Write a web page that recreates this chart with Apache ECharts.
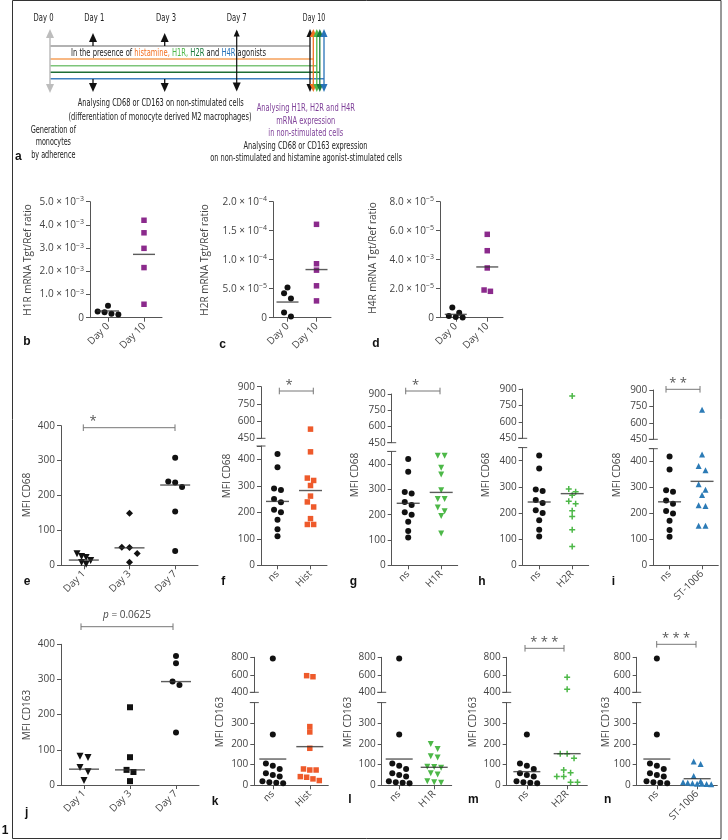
<!DOCTYPE html>
<html><head><meta charset="utf-8">
<script src="https://cdn.jsdelivr.net/npm/echarts@6/dist/echarts.min.js"></script>
<style>html,body{margin:0;padding:0;background:#fff}#c{width:728px;height:840px}</style>
</head><body><div id="c"></div>
<script>
// ---------------- DATA ----------------
const catDay010 = ['Day 0', 'Day 10'];
const catDays = ['Day 1', 'Day 3', 'Day 7'];
const catHist = ['ns', 'Hist'];
const catH1R = ['ns', 'H1R'];
const catH2R = ['ns', 'H2R'];
const catST = ['ns', 'ST-1006'];

// b, c, d : mRNA Tgt/Ref ratio
const h1rDay0 = [0.52e-3, 0.27e-3, 0.24e-3, 0.17e-3, 0.14e-3];
const h1rDay10 = [4.2e-3, 3.66e-3, 2.99e-3, 2.16e-3, 0.58e-3];
const h1rLine = [0.29e-3, 2.73e-3];
const h2rDay0 = [5.2e-5, 4.2e-5, 3.3e-5, 0.9e-5, 0.2e-5];
const h2rDay10 = [1.61e-4, 9.3e-5, 8.2e-5, 5.5e-5, 2.9e-5];
const h2rLine = [2.7e-5, 8.3e-5];
const h4rDay0 = [0.71e-5, 0.35e-5, 0.12e-5, 0.05e-5, 0.02e-5];
const h4rDay10 = [5.75e-5, 4.62e-5, 3.43e-5, 1.91e-5, 1.82e-5];
const h4rLine = [0.23e-5, 3.5e-5];

// e : MFI CD68 over days
const cd68Day1 = [33, 25, 22, 14, 8, 3];
const cd68Day3 = [149, 52, 51, 34, 9];
const cd68Day7 = [308, 240, 237, 224, 154, 41];
const cd68DayLine = [15, 50, 230];

// f - i : MFI CD68 day 10
const cd68Ns = [420, 370, 290, 284, 250, 238, 210, 200, 172, 136, 110];
const cd68Hist = [530, 428, 329, 320, 301, 261, 239, 220, 176, 154, 154];
const cd68H1R = [433, 433, 385, 359, 297, 262, 262, 228, 214, 195, 126];
const cd68H2R = [837, 292, 281, 268, 245, 235, 209, 187, 136, 72];
const cd68ST = [720, 428, 383, 367, 313, 292, 271, 232, 229, 153, 153];
const lineF = [241, 282], lineG = [245, 288], lineH = [242, 274], lineI = [245, 324];

// j : MFI CD163 over days
const cd163Day1 = [82, 78, 50, 38, 13];
const cd163Day3 = [221, 79, 43, 37, 11];
const cd163Day7 = [367, 346, 294, 284, 149];
const cd163DayLine = [45, 43, 294];

// k - n : MFI CD163 day 10
const cd163Ns = [785, 246, 106, 95, 79, 58, 50, 42, 20, 15, 12, 10];
const cd163NsM = [246, 106, 95, 79, 58, 50, 42, 20, 15, 12, 10];
const cd163Hist = [590, 578, 284, 258, 179, 79, 74, 74, 42, 39, 31, 23];
const cd163H1R = [200, 175, 140, 135, 90, 88, 85, 58, 52, 20, 15, 12];
const cd163H2R = [571, 434, 152, 152, 131, 74, 61, 42, 42, 15, 15];
const cd163ST = [115, 103, 45, 20, 15, 12, 10, 8, 8, 6, 5];
const lineK = [127, 187], lineL = [127, 87], lineM = [66, 153], lineN = [127, 32];

// tick labels
const tickH1R = ['0', '1.0 × 10^−3', '2.0 × 10^−3', '3.0 × 10^−3', '4.0 × 10^−3', '5.0 × 10^−3'];
const tickH2R = ['0', '5.0 × 10^−5', '1.0 × 10^−4', '1.5 × 10^−4', '2.0 × 10^−4'];
const tickH4R = ['0', '2.0 × 10^−5', '4.0 × 10^−3', '6.0 × 10^−5', '8.0 × 10^−5'];
const tick400 = ['0', '100', '200', '300', '400'];
const tickCD68High = ['450', '600', '750', '900'];
const tickCD163Low = ['0', '100', '200', '300'];
const tickCD163High = ['400', '600', '800'];

// timeline labels
const tlDays = ['Day 0', 'Day 1', 'Day 3', 'Day 7', 'Day 10'];

// ---------------- STYLE ----------------
const FONT = "'Open Sans','Noto Sans',sans-serif";
const NARROW = "'Liberation Sans Narrow','DejaVu Sans Condensed',sans-serif";
const AX = '#555', TXT = '#444';
const C_BLACK = '#111', C_PURPLE = '#8B2A8C', C_ORANGE = '#EE5A2B', C_GREEN = '#4DB848', C_BLUE = '#2C7BB6';
const PLUS = 'path://M3,0H5V3H8V5H5V8H3V5H0V3H3Z';
const S_CIRC = {sym: 'circle', color: C_BLACK, size: 6};
const S_PURP = {sym: 'rect', color: C_PURPLE, size: 5.5};
const S_DOWN = {sym: 'triangle', rot: 180, color: C_BLACK, size: 7, gap: 0.65};
const S_DIAM = {sym: 'diamond', color: C_BLACK, size: 7, gap: 1.1};
const S_SQ = {sym: 'rect', color: C_BLACK, size: 6};
const S_HIST = {sym: 'rect', color: C_ORANGE, size: 5.5};
const S_H1R = {sym: 'triangle', rot: 180, color: C_GREEN, size: 6};
const S_H2R = {sym: PLUS, color: C_GREEN, size: 6};
const S_ST = {sym: 'triangle', color: C_BLUE, size: 6};

const RICH = {
  m: {fontSize: 10, color: TXT, fontFamily: FONT, lineHeight: 12},
  e: {fontSize: 7, color: TXT, fontFamily: FONT, lineHeight: 7, verticalAlign: 'top'}
};

const grids = [], xAxis = [], yAxis = [], series = [], G = [];

function fmt(y) {
  return function (v) {
    const i = Math.round((v - y.min) / y.interval);
    const s = y.labels[i];
    if (s === undefined || Math.abs(v - (y.min + i * y.interval)) > y.interval * 1e-6) return '';
    if (s.indexOf('^') < 0) return s;
    const parts = s.split('^');
    return '{m|' + parts[0] + '}{e|' + parts[1] + '}';
  };
}

function addGrid(box, cats, y, showX) {
  const gi = grids.length;
  grids.push({left: box.left, top: box.top, width: box.width, height: box.height, containLabel: false, outerBoundsMode: 'none'});
  xAxis.push({gridIndex: gi, type: 'category', data: cats, show: showX, boundaryGap: true,
    axisLine: {show: true, lineStyle: {color: AX, width: 1}},
    axisTick: {show: true, alignWithLabel: true, length: 4, lineStyle: {color: AX}},
    axisLabel: {show: true, interval: 0, rotate: 45, fontSize: 10, color: TXT, fontFamily: FONT, margin: 7},
    splitLine: {show: false}});
  yAxis.push({gridIndex: gi, type: 'value', min: y.min, max: y.max, interval: y.interval,
    axisLine: {show: true, lineStyle: {color: AX, width: 1}},
    axisTick: {show: true, length: 4, lineStyle: {color: AX}},
    splitLine: {show: false},
    axisLabel: {show: true, fontSize: 10, color: TXT, fontFamily: FONT, margin: 6, formatter: fmt(y), rich: RICH}});
  return gi;
}

// non-random dodge (column scatter): points within one symbol height share a row, spread symmetrically
function swarm(vals, px, size, gapF, maxW) {
  const idx = vals.map((v, i) => i).sort((a, b) => vals[b] - vals[a]);
  const off = vals.map(() => 0);
  let row = [], startY = 0;
  const flush = () => {
    const k = row.length;
    const sp = k > 1 ? Math.min(size * gapF, maxW / (k - 1)) : 0;
    row.forEach((ii, j) => { off[ii] = (j - (k - 1) / 2) * sp; });
    row = [];
  };
  idx.forEach(i => {
    const y = vals[i] * px;
    if (row.length && startY - y < size * 0.95) row.push(i);
    else { flush(); row = [i]; startY = y; }
  });
  flush();
  return off;
}

function pushScatter(gi, ci, vals, px, g, band) {
  const off = swarm(vals, px, g.size, g.gap || 1.15, band * 0.7);
  series.push({type: 'scatter', xAxisIndex: gi, yAxisIndex: gi, symbol: g.sym, symbolSize: g.size, symbolRotate: g.rot || 0,
    itemStyle: {color: g.color, opacity: 1}, silent: true, z: 3,
    data: vals.map((v, i) => ({value: [ci, v], symbolOffset: [off[i], 0]}))});
}

function addPanel(p) {
  const gl = addGrid({left: p.left, width: p.width, top: p.low.top, height: p.low.height}, p.cats, p.low, true);
  let gu = null;
  if (p.high) gu = addGrid({left: p.left, width: p.width, top: p.high.top, height: p.high.height}, p.cats, p.high, false);
  const pxL = p.low.height / (p.low.max - p.low.min);
  const pxU = p.high ? p.high.height / (p.high.max - p.high.min) : 0;
  const band = p.width / p.cats.length;
  p.groups.forEach((g, ci) => {
    const lo = g.vals.filter(v => !p.high || v <= p.low.max);
    const hi = p.high ? g.vals.filter(v => v > p.low.max) : [];
    pushScatter(gl, ci, lo, pxL, g, band);
    if (hi.length) pushScatter(gu, ci, hi, pxU, g, band);
  });
  series.push({type: 'scatter', xAxisIndex: gl, yAxisIndex: gl, symbol: 'rect', symbolSize: [p.lineW, 1.4],
    itemStyle: {color: '#333'}, z: 5, silent: true, data: p.lines.map((v, i) => [i, v])});
  if (p.high) {
    const yb = p.high.top + p.high.height, yt = p.low.top;
    gLine(p.left - 4.5, yb, p.left + 4.5, yb, AX, 1);
    gLine(p.left - 4.5, yt, p.left + 4.5, yt, AX, 1);
  }
}

// graphic helpers
function gLine(x1, y1, x2, y2, stroke, w) { G.push({type: 'line', silent: true, shape: {x1, y1, x2, y2}, style: {stroke, lineWidth: w || 1}}); }
function gPoly(points, fill) { G.push({type: 'polygon', silent: true, shape: {points}, style: {fill}}); }
function head(x, tip, dir, color, w, h) { const b = tip + dir * h; gPoly([[x, tip], [x - w, b], [x + w, b]], color); }
function gText(x, y, text, st, extra) {
  G.push(Object.assign({type: 'text', silent: true, x, y, style: Object.assign({text, fill: '#222', fontSize: 10, fontFamily: FONT, align: 'center', verticalAlign: 'middle'}, st)}, extra || {}));
}
function yName(x, y, text) { gText(x, y, text, {fill: TXT, fontSize: 10}, {rotation: Math.PI / 2}); }
function letter(x, y, t) { gText(x, y, t, {fill: '#111', fontSize: 12, fontWeight: 'bold', fontFamily: "'Liberation Sans','DejaVu Sans',sans-serif"}); }
function bracket(x1, x2, y, label, lx, ly, st) {
  gLine(x1, y, x2, y, '#777', 1);
  gLine(x1, y - 3.3, x1, y + 3.3, '#777', 1);
  gLine(x2, y - 3.3, x2, y + 3.3, '#777', 1);
  gText(lx, ly, label, Object.assign({fill: '#555', fontSize: 13}, st || {}));
}

// ---------------- PANELS ----------------
const LOW68 = {min: 0, max: 450, interval: 100, labels: tick400};
const HIGH68 = {min: 450, max: 900, interval: 150, labels: tickCD68High};
const LOW163 = {min: 0, max: 400, interval: 100, labels: tickCD163Low};
const HIGH163 = {min: 400, max: 800, interval: 200, labels: tickCD163High};

addPanel({left: 90, width: 72, cats: catDay010, low: {top: 201.7, height: 116, min: 0, max: 5e-3, interval: 1e-3, labels: tickH1R},
  groups: [Object.assign({vals: h1rDay0}, S_CIRC), Object.assign({vals: h1rDay10}, S_PURP)], lines: h1rLine, lineW: 22});
addPanel({left: 273, width: 58, cats: catDay010, low: {top: 201.7, height: 116, min: 0, max: 2e-4, interval: 5e-5, labels: tickH2R},
  groups: [Object.assign({vals: h2rDay0}, S_CIRC), Object.assign({vals: h2rDay10}, S_PURP)], lines: h2rLine, lineW: 22});
addPanel({left: 440, width: 63, cats: catDay010, low: {top: 201.7, height: 116, min: 0, max: 8e-5, interval: 2e-5, labels: tickH4R},
  groups: [Object.assign({vals: h4rDay0}, S_CIRC), Object.assign({vals: h4rDay10}, S_PURP)], lines: h4rLine, lineW: 22});

addPanel({left: 61, width: 137, cats: catDays, low: {top: 425.7, height: 139.6, min: 0, max: 400, interval: 100, labels: tick400},
  groups: [Object.assign({vals: cd68Day1}, S_DOWN), Object.assign({vals: cd68Day3}, S_DIAM), Object.assign({vals: cd68Day7}, S_CIRC)],
  lines: cd68DayLine, lineW: 30});

addPanel({left: 261, width: 66, cats: catHist, low: Object.assign({top: 446, height: 119.3}, LOW68), high: Object.assign({top: 386.7, height: 51.6}, HIGH68),
  groups: [Object.assign({vals: cd68Ns}, S_CIRC), Object.assign({vals: cd68Hist}, S_HIST)], lines: lineF, lineW: 23});
addPanel({left: 391.7, width: 66, cats: catH1R, low: Object.assign({top: 451.4, height: 113.9}, LOW68), high: Object.assign({top: 394, height: 48.7}, HIGH68),
  groups: [Object.assign({vals: cd68Ns}, S_CIRC), Object.assign({vals: cd68H1R}, S_H1R)], lines: lineG, lineW: 23});
addPanel({left: 522.7, width: 66, cats: catH2R, low: Object.assign({top: 447.6, height: 117.7}, LOW68), high: Object.assign({top: 389, height: 49.3}, HIGH68),
  groups: [Object.assign({vals: cd68Ns}, S_CIRC), Object.assign({vals: cd68H2R}, S_H2R)], lines: lineH, lineW: 23});
addPanel({left: 653.3, width: 65, cats: catST, low: Object.assign({top: 448.7, height: 116.6}, LOW68), high: Object.assign({top: 390, height: 49.3}, HIGH68),
  groups: [Object.assign({vals: cd68Ns}, S_CIRC), Object.assign({vals: cd68ST}, S_ST)], lines: lineI, lineW: 23});

addPanel({left: 61, width: 138, cats: catDays, low: {top: 644.3, height: 140.7, min: 0, max: 400, interval: 100, labels: tick400},
  groups: [Object.assign({vals: cd163Day1}, S_DOWN, {gap: 1.15}), Object.assign({vals: cd163Day3}, S_SQ), Object.assign({vals: cd163Day7}, S_CIRC)],
  lines: cd163DayLine, lineW: 30});

const L163 = Object.assign({top: 702.6, height: 82.7}, LOW163), H163 = Object.assign({top: 657.3, height: 35}, HIGH163);
addPanel({left: 254.3, width: 74, cats: catHist, low: L163, high: H163,
  groups: [Object.assign({vals: cd163Ns}, S_CIRC), Object.assign({vals: cd163Hist}, S_HIST)], lines: lineK, lineW: 27});
addPanel({left: 381.7, width: 70, cats: catH1R, low: L163, high: H163,
  groups: [Object.assign({vals: cd163Ns}, S_CIRC), Object.assign({vals: cd163H1R}, S_H1R)], lines: lineL, lineW: 27});
addPanel({left: 506.7, width: 80.6, cats: catH2R, low: L163, high: H163,
  groups: [Object.assign({vals: cd163NsM}, S_CIRC), Object.assign({vals: cd163H2R}, S_H2R)], lines: lineM, lineW: 27});
addPanel({left: 636.7, width: 80.6, cats: catST, low: L163, high: H163,
  groups: [Object.assign({vals: cd163Ns}, S_CIRC), Object.assign({vals: cd163ST}, S_ST)], lines: lineN, lineW: 27});

// axis names
yName(28, 260, 'H1R mRNA Tgt/Ref ratio');
yName(205, 260, 'H2R mRNA Tgt/Ref ratio');
yName(373.3, 258, 'H4R mRNA Tgt/Ref ratio');
yName(26.7, 495, 'MFI CD68');
yName(226.7, 476, 'MFI CD68');
yName(355, 475, 'MFI CD68');
yName(485.7, 475, 'MFI CD68');
yName(616.7, 475, 'MFI CD68');
yName(26.7, 715, 'MFI CD163');
yName(220, 722, 'MFI CD163');
yName(348.3, 722, 'MFI CD163');
yName(473.3, 722, 'MFI CD163');
yName(606, 722, 'MFI CD163');

// panel letters
[['a', 18.3, 156.7], ['b', 27, 341.7], ['c', 222.7, 345], ['d', 376, 343.3], ['e', 27, 581.7], ['f', 223.3, 581.7],
 ['g', 353.3, 581.7], ['h', 482, 581.7], ['i', 613.3, 581.7], ['j', 26.7, 812.7], ['k', 215, 801.7], ['l', 350, 800],
 ['m', 473.3, 800], ['n', 607.7, 800], ['1', 5, 831]].forEach(a => letter(a[1], a[2], a[0]));

// significance brackets
bracket(83.3, 175, 427.7, '*', 93, 421);
bracket(279.3, 313.3, 391, '*', 289, 385);
bracket(405.7, 440, 391, '*', 415.7, 385);
bracket(666, 700, 389.3, '* *', 678, 383);
bracket(81, 173, 626.7, '{i|p} = 0.0625', 127, 615.5, {fontSize: 10, fill: '#444', rich: {i: {fontStyle: 'italic', fontSize: 10, fill: '#444', fontFamily: FONT}}});
bracket(525, 564, 648.3, '* * *', 544.3, 642);
bracket(656.7, 696, 644.3, '* * *', 676, 638);

// ---------------- TIMELINE (panel a) ----------------
const TL_SIZE = 10.5;
const measureCtx = document.createElement('canvas').getContext('2d');
function fitScale(text, target) {
  measureCtx.font = TL_SIZE + 'px ' + NARROW;
  const w = measureCtx.measureText(text).width;
  return w > 0 ? target / w : 1;
}
function tl(x, y, text, target, fill, extra) {
  const plain = text.replace(/\{[a-z]+\|/g, '').replace(/\}/g, '');
  gText(x, y, text, Object.assign({fill: fill || '#222', fontFamily: NARROW, fontSize: TL_SIZE}, extra || {}), {scaleX: fitScale(plain, target)});
}
const TLX = [50, 93, 164.7, 236.7, 310];
const TLLX = [43.5, 94.3, 166, 236.7, 314];
const TLW = [20, 20, 20, 20, 22.3];
tlDays.forEach((d, i) => tl(TLLX[i], 18, d, TLW[i]));
// horizontal lines
gLine(50, 46, 310, 46, '#666', 1.2);
gLine(50, 59, 313.3, 59, '#F6A15A', 1.6);
gLine(50, 65.7, 316.8, 65.7, '#7DC57A', 1.6);
gLine(50, 72.3, 319.8, 72.3, '#1E6E35', 1.6);
gLine(50, 78.7, 324, 78.7, '#3F7FBF', 1.6);
// Day 0 grey double arrow
gLine(50, 36, 50, 86, '#bdbdbd', 1.5);
head(50, 29, 1, '#bdbdbd', 4, 9);
head(50, 93, -1, '#bdbdbd', 4, 9);
// Day 1, Day 3
[TLX[1], TLX[2]].forEach(x => {
  head(x, 33, 1, '#111', 4, 9); gLine(x, 41, x, 46, '#111', 1.3);
  gLine(x, 79, x, 85, '#111', 1.3); head(x, 92, -1, '#111', 4, 9);
});
// Day 7
gLine(TLX[3], 31, TLX[3], 86, '#111', 1.2);
head(TLX[3], 29.5, 1, '#111', 3, 7);
head(TLX[3], 91.5, -1, '#111', 4, 9);
// Day 10
[[310, '#111'], [313.3, '#F37021'], [316.8, '#4DB848'], [319.8, '#1A7A3C'], [324, '#2873B8']].forEach(a => {
  gLine(a[0], 34, a[0], 86, a[1], 1.3);
  head(a[0], 29, 1, a[1], 3.5, 8);
  head(a[0], 92, -1, a[1], 3.5, 8);
});
const rt = (c) => ({fill: c, fontFamily: NARROW, fontSize: TL_SIZE});
tl(71, 53, '{k|In the presence of }{o|histamine, }{g|H1R, }{dg|H2R}{k| and }{b|H4R}{k| agonists}', 195, '#222',
  {align: 'left', rich: {k: rt('#222'), o: rt('#F37021'), g: rt('#4DB848'), dg: rt('#1A7A3C'), b: rt('#2873B8')}});
tl(160.7, 103, 'Analysing CD68 or CD163 on non-stimulated cells', 166);
tl(160, 117, '(differentiation of monocyte derived M2 macrophages)', 183);
tl(53.3, 130, 'Generation of', 45.3);
tl(53.3, 142.5, 'monocytes', 35.3);
tl(53.3, 155, 'by adherence', 44.3);
const PURP = '#7E3F98';
tl(305.8, 108.3, 'Analysing H1R, H2R and H4R', 98.3, PURP);
tl(305.8, 120.8, 'mRNA expression', 59, PURP);
tl(305.8, 133.3, 'in non-stimulated cells', 75, PURP);
tl(305.5, 145.8, 'Analysing CD68 or CD163 expression', 124);
tl(306, 158.3, 'on non-stimulated and histamine agonist-stimulated cells', 191.7);

// frame
G.push({type: 'rect', silent: true, shape: {x: 12.5, y: 0.5, width: 708.5, height: 838}, style: {fill: 'none', stroke: '#333', lineWidth: 1}});

const chart = echarts.init(document.getElementById('c'), null, {renderer: 'canvas'});
chart.setOption({
  animation: false,
  backgroundColor: '#fff',
  textStyle: {fontFamily: FONT},
  grid: grids, xAxis: xAxis, yAxis: yAxis, series: series,
  graphic: G
});
</script></body></html>
